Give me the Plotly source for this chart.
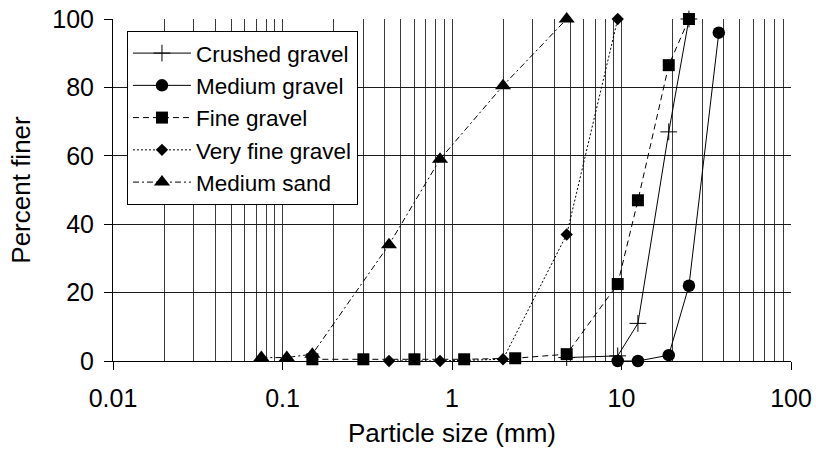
import plotly.graph_objects as go

# Sieve analysis: particle size (mm) vs. percent finer
crushed_size = [4.75, 9.5, 12.5, 19, 25]
crushed_pct = [1, 1.5, 11, 67, 100]

medium_size = [9.5, 12.5, 19, 25, 37.5]
medium_pct = [0, 0, 1.7, 22, 96]

fine_size = [0.15, 0.3, 0.6, 1.18, 2.36, 4.75, 9.5, 12.5, 19, 25]
fine_pct = [0.5, 0.5, 0.5, 0.5, 0.8, 2, 22.5, 47, 86.5, 100]

vfine_size = [0.425, 0.85, 2, 4.75, 9.5]
vfine_pct = [0, 0, 0.5, 37, 100]

sand_size = [0.075, 0.106, 0.15, 0.425, 0.85, 2, 4.75]
sand_pct = [1, 1, 2, 34, 59, 80.5, 100]

x_tick_vals = [0.01, 0.1, 1, 10, 100]
x_tick_text = ["0.01", "0.1", "1", "10", "100"]
y_tick_vals = [0, 20, 40, 60, 80, 100]

FONT = "Liberation Sans, Arial, sans-serif"

series = [
    ("Crushed gravel", crushed_size, crushed_pct,
     dict(symbol="cross-thin", size=12, line=dict(width=1, color="black")),
     "solid"),
    ("Medium gravel", medium_size, medium_pct,
     dict(symbol="circle", size=12.5), "solid"),
    ("Fine gravel", fine_size, fine_pct,
     dict(symbol="square", size=12), "6px,4px"),
    ("Very fine gravel", vfine_size, vfine_pct,
     dict(symbol="diamond", size=9.5), "2px,2px"),
    ("Medium sand", sand_size, sand_pct,
     dict(symbol="triangle-up", size=14), "6px,3px,2px,3px"),
]

fig = go.Figure()
for name, xs, ys, marker, dash in series:
    marker = dict(marker)
    marker.setdefault("color", "black")
    fig.add_trace(go.Scatter(
        x=xs, y=ys, name=name, mode="lines+markers",
        line=dict(color="black", width=1, dash=dash),
        marker=marker, cliponaxis=False,
    ))

fig.update_layout(
    width=816, height=449,
    margin=dict(l=113, r=25, t=19, b=88),
    paper_bgcolor="white", plot_bgcolor="white",
    font=dict(family=FONT, size=24, color="black"),
    showlegend=True,
    legend=dict(
        x=0.0206, y=0.965, xanchor="left", yanchor="top",
        bgcolor="white", bordercolor="black", borderwidth=1,
        font=dict(family=FONT, size=22.5, color="black"),
        tracegroupgap=0, itemwidth=58,
    ),
)

fig.update_xaxes(
    type="log", range=[-2, 2], automargin=False,
    tickvals=x_tick_vals, ticktext=x_tick_text,
    ticks="outside", ticklen=8, tickcolor="black", tickwidth=1,
    tickfont=dict(size=25), ticklabelstandoff=7,
    showline=True, linecolor="black", linewidth=1, mirror=False,
    showgrid=True, gridcolor="#3a3a3a", gridwidth=1,
    minor=dict(dtick="D1", showgrid=True, gridcolor="#3a3a3a", gridwidth=1, ticks=""),
    zeroline=False,
    title=dict(text="Particle size (mm)", font=dict(size=26), standoff=12),
)
fig.update_yaxes(
    range=[0, 100], automargin=False,
    tickvals=y_tick_vals,
    ticks="outside", ticklen=8, tickcolor="black", tickwidth=1,
    tickfont=dict(size=25), ticklabelstandoff=5,
    showline=True, linecolor="black", linewidth=1, mirror=False,
    showgrid=True, gridcolor="#1a1a1a", gridwidth=1,
    zeroline=False,
    title=dict(text="Percent finer", font=dict(size=26), standoff=14),
)

fig.write_html("out.html")
